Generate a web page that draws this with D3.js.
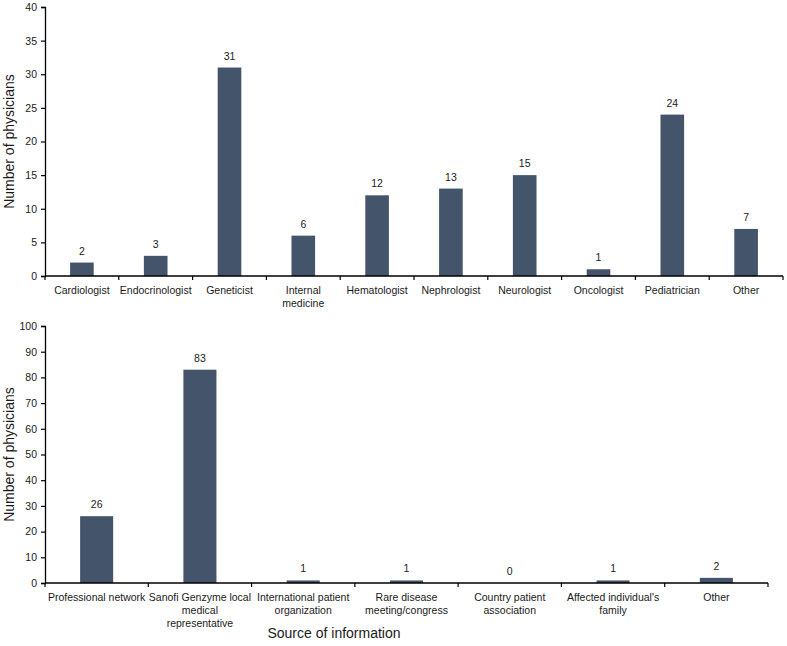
<!DOCTYPE html>
<html><head><meta charset="utf-8">
<script src="https://cdn.jsdelivr.net/npm/d3@7"></script>
<style>body{margin:0;background:#fff}svg{display:block}text{font-family:"Liberation Sans",Arial,sans-serif;fill:#1a1a1a}</style>
</head><body>
<svg id="c" width="787" height="646"></svg>
<script>
const specialtyCategories = [["Cardiologist"],["Endocrinologist"],["Geneticist"],["Internal","medicine"],["Hematologist"],["Nephrologist"],["Neurologist"],["Oncologist"],["Pediatrician"],["Other"]];
const specialtyValues = [2,3,31,6,12,13,15,1,24,7];
const specialtyTicks = [0,5,10,15,20,25,30,35,40];

const sourceCategories = [["Professional network"],["Sanofi Genzyme local","medical","representative"],["International patient","organization"],["Rare disease","meeting/congress"],["Country patient","association"],["Affected individual's","family"],["Other"]];
const sourceValues = [26,83,1,1,0,1,2];
const sourceTicks = [0,10,20,30,40,50,60,70,80,90,100];

const svg = d3.select("#c");
const color = "#44546A";

function panel(cats, vals, ticks, x0, x1, yTop, yBot, yTitle){
  const keys = cats.map((c,i)=>i);
  const x = d3.scaleBand().domain(keys).range([x0,x1]).padding(0);
  const y = d3.scaleLinear().domain([0, ticks[ticks.length-1]]).range([yBot,yTop]);
  const g = svg.append("g");
  const bw = x.bandwidth();
  g.selectAll("rect.bar").data(vals).join("rect")
    .attr("x",(d,i)=>x(i)+bw*0.34).attr("width",bw*0.32)
    .attr("y",d=>y(d)).attr("height",d=>yBot-y(d)).attr("fill",color);
  g.selectAll("text.val").data(vals).join("text")
    .attr("x",(d,i)=>x(i)+bw/2).attr("y",d=>y(d)-8)
    .attr("text-anchor","middle").attr("font-size","10.5px").text(d=>d);
  const ya = d3.axisLeft(y).tickValues(ticks).tickSize(4).tickPadding(4);
  const yg = g.append("g").attr("transform",`translate(${x0},0)`).call(ya);
  yg.select(".domain").attr("stroke","#000").attr("stroke-width",1.3);
  yg.selectAll(".tick line").attr("stroke","#000").attr("stroke-width",1.2);
  yg.selectAll(".tick text").attr("font-size","10.5px").attr("font-family",'"Liberation Sans",Arial,sans-serif').attr("fill","#1a1a1a");
  g.append("line").attr("x1",x0).attr("x2",x1).attr("y1",yBot).attr("y2",yBot).attr("stroke","#000").attr("stroke-width",1.5);
  const bounds = keys.map(k=>x(k)).concat([x1]);
  g.selectAll("line.xt").data(bounds).join("line")
    .attr("x1",d=>d).attr("x2",d=>d).attr("y1",yBot).attr("y2",yBot+4).attr("stroke","#000").attr("stroke-width",1.2);
  cats.forEach((lines,i)=>{
    const t = g.append("text").attr("text-anchor","middle").attr("font-size","10.5px")
      .attr("x",x(i)+bw/2).attr("y",yBot+18);
    lines.forEach((l,j)=>t.append("tspan").attr("x",x(i)+bw/2).attr("dy",j?13:0).text(l));
  });
  svg.append("text").attr("transform",`translate(14,${(yTop+yBot)/2}) rotate(-90)`)
    .attr("text-anchor","middle").attr("font-size","14px").text(yTitle);
}

panel(specialtyCategories, specialtyValues, specialtyTicks, 45, 783, 7, 276, "Number of physicians");
panel(sourceCategories, sourceValues, sourceTicks, 45, 768, 326, 583, "Number of physicians");
svg.append("text").attr("x",334).attr("y",638).attr("text-anchor","middle").attr("font-size","14px").text("Source of information");
</script>
</body></html>
